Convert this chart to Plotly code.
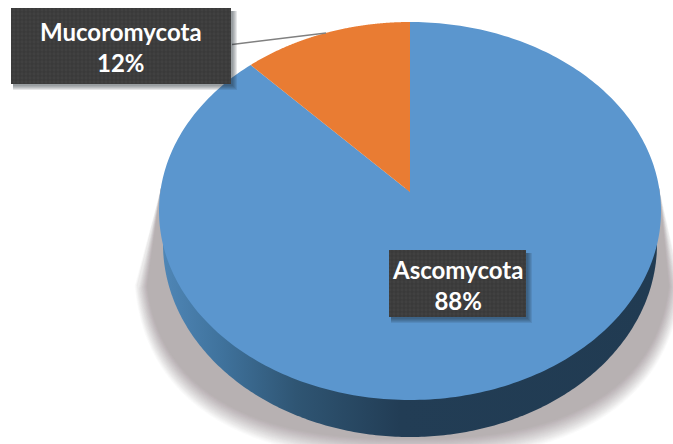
import numpy as np
import plotly.graph_objects as go

# Phylum shares, listed clockwise from twelve o'clock
categories = ["Ascomycota", "Mucoromycota"]
shares = [88, 12]
slice_colors = ["#5b96ce", "#e97c33"]

# Tilted disc geometry on a 673x444 canvas
CX, CY, RX, RY = 410.0, 211.0, 251.0, 189.0
APEX_SHIFT = 0.10      # perspective offset of the pie centre
BASE_CY, BASE_RX, BASE_RY = 244.0, 247.0, 193.0
LABEL_FONT = "Lato"
LABEL_SIZE = 24


def project(theta, radius=1.0):
    """Map a clockwise angle on the flat pie onto the tilted ellipse."""
    u, v = radius * np.sin(theta), radius * np.cos(theta)
    c = APEX_SHIFT
    den = 1 + c * v
    return CX + RX * u * np.sqrt(1 - c * c) / den, CY - RY * (v + c) / den


def add_poly(fig, xs, ys, **kw):
    fig.add_trace(go.Scatter(x=xs, y=ys, mode="none", fill="toself",
                             hoverinfo="skip", showlegend=False, **kw))


def shadow_outline(grow):
    # squarish lower curve, with straight edges up to two sharp tips beside the disc
    t = np.linspace(np.pi, 0, 200)
    a, b, n = 265 + grow * 0.6, 193 + grow, 2.5
    c, s = np.cos(t), np.sin(t)
    x = 408 + a * np.sign(c) * np.abs(c) ** (2 / n)
    y = 250 + b * s ** (2 / n)
    keep = y > 285
    return (np.concatenate([[161], x[keep], [659]]),
            np.concatenate([[188], y[keep], [188]]))


def add_label(fig, text, x0, y0, x1, y1):
    # soft drop shadow, then the stippled box, then the text
    for g in range(5, 0, -1):
        add_poly(fig, [x0 + 2, x1 + g + 1, x1 + g + 1, x0 + 2],
                 [y0 + 3, y0 + 3, y1 + g + 1, y1 + g + 1],
                 fillcolor="rgba(30,40,50,0.11)")
    add_poly(fig, [x0, x1, x1, x0], [y0, y0, y1, y1], fillcolor="#3b3b3b",
             fillpattern=dict(shape=".", bgcolor="#3a3a3a", fgcolor="#484848",
                              size=4, solidity=0.4))
    fig.add_annotation(x=(x0 + x1) / 2, y=(y0 + y1) / 2, text=text, showarrow=False, yshift=-1,
                       font=dict(family=LABEL_FONT, size=LABEL_SIZE, color="white", weight="bold"),
                       align="center", xanchor="center", yanchor="middle")


fig = go.Figure()

# Cast shadow, built from stacked translucent outlines for a soft edge
steps = 20
for i in range(steps):
    grow = 16 - 20 * i / (steps - 1)
    sx, sy = shadow_outline(grow)
    add_poly(fig, sx, sy, fillcolor=f"rgba(183,177,178,{1 / (steps - i):.4f})")

# Side wall of the disc: lower half of the base ellipse, the top face covers the rest
t = np.linspace(np.pi, 0, 240)
rim_x = CX + BASE_RX * np.cos(t)
rim_y = BASE_CY + BASE_RY * np.sin(t)
fig.add_trace(go.Scatter(
    x=rim_x, y=rim_y, mode="none", fill="toself", hoverinfo="skip", showlegend=False,
    fillgradient=dict(type="horizontal", colorscale=[
        [0.0, "#4f86b6"], [0.12, "#3f729c"], [0.27, "#2f5573"],
        [0.48, "#223d55"], [1.0, "#213b52"]]),
))

# Top face: one wedge per share, swept clockwise from the top
total = sum(shares)
start = 0.0
for share, color in zip(shares, slice_colors):
    stop = start + 2 * np.pi * share / total
    ang = np.linspace(start, stop, 300)
    ax, ay = project(ang)
    ox, oy = project(np.array([0.0]), radius=0.0)
    add_poly(fig, np.concatenate([ox, ax, ox]), np.concatenate([oy, ay, oy]), fillcolor=color)
    start = stop

# Leader line from the small slice out to its label
fig.add_trace(go.Scatter(x=[232, 326], y=[44.5, 33], mode="lines", hoverinfo="skip",
                         showlegend=False, line=dict(color="#808080", width=1.5)))

add_label(fig, f"{categories[1]}<br>{shares[1]}%", 11, 8, 231, 84)
add_label(fig, f"{categories[0]}<br>{shares[0]}%", 389, 250, 526, 317)

fig.update_xaxes(visible=False, range=[0, 673], fixedrange=True)
fig.update_yaxes(visible=False, range=[444, 0], fixedrange=True)
fig.update_layout(width=673, height=444, margin=dict(l=0, r=0, t=0, b=0),
                  paper_bgcolor="white", plot_bgcolor="white", showlegend=False)

fig.write_html("out.html", config={"displayModeBar": False})
